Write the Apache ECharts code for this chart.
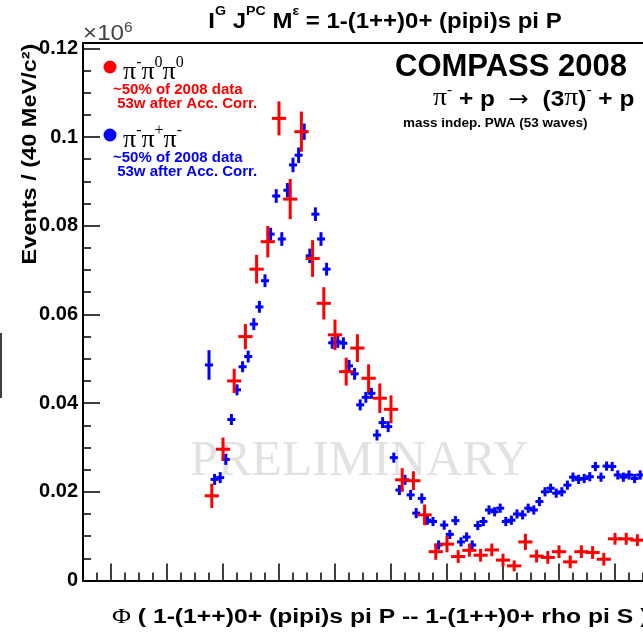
<!DOCTYPE html>
<html>
<head>
<meta charset="utf-8">
<script src="https://cdn.jsdelivr.net/npm/echarts@6/dist/echarts.min.js"></script>
<style>
  html, body { margin: 0; padding: 0; background: #fff; }
  #chart { width: 643px; height: 636px; }
</style>
</head>
<body>
<div id="chart"></div>
<script>
// pi- pi0 pi0 (40 MeV bins), values in units of 10^6 events
var redMass = [0.96, 1.00, 1.04, 1.08, 1.12, 1.16, 1.20, 1.24, 1.28, 1.32,
               1.36, 1.40, 1.44, 1.48, 1.52, 1.56, 1.60, 1.64, 1.68, 1.72,
               1.76, 1.80, 1.84, 1.88, 1.92, 1.96, 2.00, 2.04, 2.08, 2.12,
               2.16, 2.20, 2.24, 2.28, 2.32, 2.36, 2.40, 2.44, 2.48];
var redVal = [0.0191, 0.0296, 0.0450, 0.0550, 0.0702, 0.0764, 0.1042, 0.0860, 0.1012, 0.0726,
              0.0625, 0.0554, 0.0471, 0.0524, 0.0456, 0.0411, 0.0386, 0.0227, 0.0225, 0.0148,
              0.0065, 0.0082, 0.0054, 0.0068, 0.0057, 0.0069, 0.0046, 0.0033, 0.0087, 0.0055,
              0.0052, 0.0065, 0.0042, 0.0065, 0.0063, 0.0048, 0.0094, 0.0094, 0.0091];
var redErr = [0.0024, 0.0023, 0.0024, 0.0025, 0.0029, 0.0032, 0.0035, 0.0042, 0.0042, 0.0038,
              0.0033, 0.0031, 0.0028, 0.0028, 0.0028, 0.0030, 0.0028, 0.0023, 0.0018, 0.0020,
              0.0015, 0.0015, 0.0011, 0.0011, 0.0011, 0.0011, 0.0011, 0.0009, 0.0015, 0.0011,
              0.0011, 0.0011, 0.0011, 0.0011, 0.0011, 0.0011, 0.0010, 0.0010, 0.0010];

// pi- pi+ pi- (20 MeV bins)
var blueMass = [0.95, 0.97, 0.99, 1.01, 1.03, 1.05, 1.07, 1.09, 1.11, 1.13,
                1.15, 1.17, 1.19, 1.21, 1.23, 1.25, 1.27, 1.29, 1.31, 1.33,
                1.35, 1.37, 1.39, 1.41, 1.43, 1.45, 1.47, 1.49, 1.51, 1.53,
                1.55, 1.57, 1.59, 1.61, 1.63, 1.65, 1.67, 1.69, 1.71, 1.73,
                1.75, 1.77, 1.79, 1.81, 1.83, 1.85, 1.87, 1.89, 1.91, 1.93,
                1.95, 1.97, 1.99, 2.01, 2.03, 2.05, 2.07, 2.09, 2.11, 2.13,
                2.15, 2.17, 2.19, 2.21, 2.23, 2.25, 2.27, 2.29, 2.31, 2.33,
                2.35, 2.37, 2.39, 2.41, 2.43, 2.45, 2.47, 2.49];
var blueVal = [0.0486, 0.0228, 0.0232, 0.0273, 0.0363, 0.0430, 0.0482, 0.0505, 0.0578, 0.0617,
               0.0676, 0.0781, 0.0867, 0.0770, 0.0880, 0.0937, 0.0959, 0.1012, 0.0732, 0.0826,
               0.0770, 0.0702, 0.0536, 0.0538, 0.0535, 0.0484, 0.0466, 0.0396, 0.0413, 0.0422,
               0.0328, 0.0356, 0.0347, 0.0277, 0.0204, 0.0227, 0.0193, 0.0152, 0.0185, 0.0136,
               0.0133, 0.0080, 0.0125, 0.0104, 0.0135, 0.0087, 0.0098, 0.0080, 0.0124, 0.0133,
               0.0159, 0.0155, 0.0163, 0.0133, 0.0136, 0.0150, 0.0148, 0.0163, 0.0159, 0.0178,
               0.0200, 0.0208, 0.0197, 0.0200, 0.0215, 0.0233, 0.0228, 0.0230, 0.0234, 0.0257,
               0.0233, 0.0258, 0.0257, 0.0238, 0.0233, 0.0238, 0.0230, 0.0238];
var blueErr = [0.0030, 0.0009, 0.0009, 0.0009, 0.0009, 0.0009, 0.0009, 0.0010, 0.0010, 0.0010,
               0.0011, 0.0011, 0.0012, 0.0012, 0.0013, 0.0013, 0.0014, 0.0015, 0.0013, 0.0012,
               0.0012, 0.0011, 0.0010, 0.0010, 0.0010, 0.0010, 0.0010, 0.0009, 0.0009, 0.0009,
               0.0009, 0.0009, 0.0009, 0.0008, 0.0008, 0.0008, 0.0008, 0.0008, 0.0008, 0.0007,
               0.0007, 0.0007, 0.0007, 0.0007, 0.0007, 0.0007, 0.0007, 0.0007, 0.0007, 0.0007,
               0.0007, 0.0007, 0.0007, 0.0007, 0.0007, 0.0007, 0.0007, 0.0007, 0.0007, 0.0007,
               0.0007, 0.0007, 0.0007, 0.0007, 0.0007, 0.0007, 0.0007, 0.0007, 0.0007, 0.0007,
               0.0007, 0.0007, 0.0007, 0.0007, 0.0007, 0.0007, 0.0007, 0.0007];

// axis ticks
var yTicks = [0, 0.02, 0.04, 0.06, 0.08, 0.1, 0.12];
var xTicks = [0.6, 0.8, 1.0, 1.2, 1.4, 1.6, 1.8, 2.0, 2.2, 2.4];

var X_MIN = 0.5, X_MAX = 2.5, Y_MIN = 0, Y_MAX = 0.1212;

// minor ticks (every 0.05 on x, 0.005 on y)
var xMinor = [], yMinor = [];
for (var i = 0; i <= 40; i++) xMinor.push(+(X_MIN + i * 0.05).toFixed(3));
for (var j = 0; j <= 24; j++) yMinor.push(+(j * 0.005).toFixed(4));

function zip(a, b, c) {
  return a.map(function (v, i) { return [v, b[i], c[i]]; });
}

// cross = error bar + bin width
function crossRenderer(color, halfW, lw) {
  return function (params, api) {
    var x = api.value(0), y = api.value(1), e = api.value(2);
    var c = api.coord([x, y]);
    var t = api.coord([x, y + e]);
    var b = api.coord([x, y - e]);
    var l = api.coord([x - halfW, y]);
    var r = api.coord([x + halfW, y]);
    var st = { stroke: color, lineWidth: lw, lineCap: 'square' };
    return {
      type: 'group',
      children: [
        { type: 'line', shape: { x1: c[0], y1: t[1], x2: c[0], y2: b[1] }, style: st },
        { type: 'line', shape: { x1: l[0], y1: c[1], x2: r[0], y2: c[1] }, style: st }
      ]
    };
  };
}

var BOLD = 'bold {s}px "Liberation Sans", Arial, sans-serif';
function f(s) { return BOLD.replace('{s}', s); }

var chart = echarts.init(document.getElementById('chart'));

var tickLine = { color: '#000', width: 1.5 };
var hideAll = { show: false };

chart.setOption({
  animation: false,
  backgroundColor: '#fff',
  grid: { left: 83, top: 43, width: 564, height: 537.5 },
  xAxis: [
    {
      type: 'value', min: X_MIN, max: X_MAX, position: 'bottom',
      axisLine: { lineStyle: { color: '#000', width: 2 } },
      axisTick: { inside: true, length: 17, customValues: xTicks, lineStyle: tickLine },
      axisLabel: hideAll, splitLine: hideAll
    },
    {
      type: 'value', min: X_MIN, max: X_MAX, position: 'bottom',
      axisLine: hideAll,
      axisTick: { inside: true, length: 8, customValues: xMinor, lineStyle: tickLine },
      axisLabel: hideAll, splitLine: hideAll
    },
    {
      type: 'value', min: X_MIN, max: X_MAX, position: 'top',
      axisLine: { lineStyle: { color: '#000', width: 2 } },
      axisTick: hideAll, axisLabel: hideAll, splitLine: hideAll
    }
  ],
  yAxis: [
    {
      type: 'value', min: Y_MIN, max: Y_MAX, position: 'left',
      axisLine: { lineStyle: { color: '#000', width: 2 } },
      axisTick: { inside: true, length: 17, customValues: yTicks, lineStyle: tickLine },
      axisLabel: {
        customValues: yTicks, margin: 5, color: '#000',
        fontFamily: '"Liberation Sans", Arial, sans-serif', fontWeight: 'bold', fontSize: 20
      },
      splitLine: hideAll
    },
    {
      type: 'value', min: Y_MIN, max: Y_MAX, position: 'left',
      axisLine: hideAll,
      axisTick: { inside: true, length: 8, customValues: yMinor, lineStyle: tickLine },
      axisLabel: hideAll, splitLine: hideAll
    }
  ],
  series: [
    {
      name: 'π-π+π-', type: 'custom', xAxisIndex: 0, yAxisIndex: 0, z: 3,
      data: zip(blueMass, blueVal, blueErr),
      renderItem: crossRenderer('#0000ff', 0.009, 3)
    },
    {
      name: 'π-π0π0', type: 'custom', xAxisIndex: 0, yAxisIndex: 0, z: 4,
      data: zip(redMass, redVal, redErr),
      renderItem: crossRenderer('#ff0000', 0.02, 3)
    }
  ],
  graphic: [
    // watermark
    {
      type: 'text', x: 190, y: 462, z: 1,
      style: { text: 'PRELIMINARY', font: '50px "Liberation Serif", serif', fill: '#e2e2e2', verticalAlign: 'middle' }
    },
    // title
    {
      type: 'text', x: 385, y: 19, scaleX: 1.09, z: 100,
      style: {
        text: '{n|I}{s|G}{n| J}{s|PC}{n| M}{s|ε}{n| = 1-(1++)0+ (pipi)s pi P}',
        align: 'center', verticalAlign: 'middle',
        rich: {
          n: { font: f(22), fill: '#000', lineHeight: 28, verticalAlign: 'bottom' },
          s: { font: f(13), fill: '#000', lineHeight: 14, verticalAlign: 'top' }
        }
      }
    },
    // x10^6
    {
      type: 'text', x: 83, y: 33, scaleX: 1.1, z: 100,
      style: {
        text: '{n|×10}{s|6}', verticalAlign: 'middle',
        rich: {
          n: { font: '22px "Liberation Sans", Arial, sans-serif', fill: '#444', lineHeight: 24, verticalAlign: 'bottom' },
          s: { font: '14px "Liberation Sans", Arial, sans-serif', fill: '#444', lineHeight: 12, verticalAlign: 'top' }
        }
      }
    },
    // y title
    {
      type: 'text', x: 30, y: 154, rotation: Math.PI / 2, scaleX: 1.12, z: 100,
      style: { text: 'Events / (40 MeV/c²)', font: f(21), fill: '#000', align: 'center', verticalAlign: 'middle' }
    },
    // x title
    {
      type: 'text', x: 112, y: 617, scaleX: 1.235, z: 100,
      style: {
        text: '{p|Φ}{n| ( 1-(1++)0+ (pipi)s pi P -- 1-(1++)0+ rho pi S )}', verticalAlign: 'middle',
        rich: {
          p: { font: '21px "Liberation Serif", serif', fill: '#000' },
          n: { font: f(20), fill: '#000' }
        }
      }
    },
    // legend
    { type: 'circle', shape: { cx: 110, cy: 67, r: 6.5 }, style: { fill: '#ff0000' }, z: 100 },
    {
      type: 'text', x: 123, y: 70, z: 100,
      style: {
        text: '{p|π}{s|-}{p|π}{s|0}{p|π}{s|0}', verticalAlign: 'middle',
        rich: {
          p: { font: '26px "Liberation Serif", serif', fill: '#000', lineHeight: 30, verticalAlign: 'bottom' },
          s: { font: '16px "Liberation Serif", serif', fill: '#000', lineHeight: 14, verticalAlign: 'top' }
        }
      }
    },
    {
      type: 'text', x: 113, y: 97, z: 100,
      style: { text: '~50% of 2008 data\n 53w after Acc. Corr.', font: f(15), fill: '#ff0000', lineHeight: 14, verticalAlign: 'middle' }
    },
    { type: 'circle', shape: { cx: 110, cy: 135, r: 6.5 }, style: { fill: '#0000ff' }, z: 100 },
    {
      type: 'text', x: 123, y: 138, z: 100,
      style: {
        text: '{p|π}{s|-}{p|π}{s|+}{p|π}{s|-}', verticalAlign: 'middle',
        rich: {
          p: { font: '26px "Liberation Serif", serif', fill: '#000', lineHeight: 30, verticalAlign: 'bottom' },
          s: { font: '16px "Liberation Serif", serif', fill: '#000', lineHeight: 14, verticalAlign: 'top' }
        }
      }
    },
    {
      type: 'text', x: 113, y: 165, z: 100,
      style: { text: '~50% of 2008 data\n 53w after Acc. Corr.', font: f(15), fill: '#0000ff', lineHeight: 14, verticalAlign: 'middle' }
    },
    // experiment labels
    {
      type: 'text', x: 395, y: 67, z: 100,
      style: { text: 'COMPASS 2008', font: f(31), fill: '#000', verticalAlign: 'middle' }
    },
    {
      type: 'text', x: 433, y: 97, scaleX: 1.11, z: 100,
      style: {
        text: '{p|π}{s|-}{n| + p  }{a|→}{n|  (3}{p|π}{n|)}{s|-}{n| + p}', verticalAlign: 'middle',
        rich: {
          p: { font: '25px "Liberation Serif", serif', fill: '#000', lineHeight: 28, verticalAlign: 'bottom' },
          n: { font: f(22), fill: '#000', lineHeight: 28, verticalAlign: 'bottom' },
          a: { font: '22px "DejaVu Sans", sans-serif', fill: '#000', lineHeight: 28, verticalAlign: 'bottom' },
          s: { font: '14px "Liberation Serif", serif', fill: '#000', lineHeight: 12, verticalAlign: 'top' }
        }
      }
    },
    {
      type: 'text', x: 403, y: 123, z: 100,
      style: { text: 'mass indep. PWA (53 waves)', font: f(13.5), fill: '#000', verticalAlign: 'middle' }
    },
    // stray frame piece at left edge
    { type: 'line', shape: { x1: 1, y1: 333, x2: 1, y2: 398 }, style: { stroke: '#000', lineWidth: 1.5 }, z: 100 }
  ]
});
</script>
</body>
</html>
